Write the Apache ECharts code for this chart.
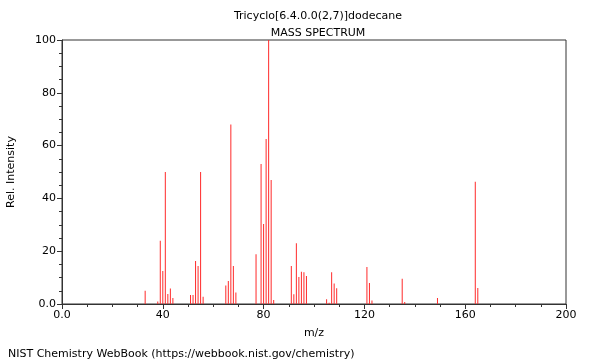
<!DOCTYPE html>
<html><head><meta charset="utf-8">
<script src="https://cdn.jsdelivr.net/npm/echarts@6/dist/echarts.min.js"></script>
<style>html,body{margin:0;padding:0;background:#fff}#c{width:600px;height:360px}</style>
</head><body><div id="c"></div>
<script>
const mz =        [33, 38, 39, 40, 41, 42, 43, 44, 51, 52, 53, 54, 55, 56, 65, 66, 67, 68, 69, 77, 79, 80, 81, 82, 83, 84, 91, 92, 93, 94, 95, 96, 97, 105, 106, 107, 108, 109, 121, 122, 123, 135, 136, 149, 164, 165];
const intensity = [5, 0.9, 24, 12.5, 50, 3.8, 5.9, 2.3, 3.4, 3.4, 16.3, 14.4, 50, 2.7, 7, 8.7, 68, 14.4, 4.4, 18.8, 53, 30.3, 62.5, 100, 47, 1.5, 14.4, 3.7, 23, 10.2, 12.2, 12, 10.6, 1.8, 0.5, 12, 7.8, 6, 14, 8, 1.3, 9.6, 0.8, 2.3, 46.3, 6.1];
const titleLines = ['Tricyclo[6.4.0.0(2,7)]dodecane', 'MASS SPECTRUM'];
const footer = 'NIST Chemistry WebBook (https://webbook.nist.gov/chemistry)';

const font = 'DejaVu Sans';
const chart = echarts.init(document.getElementById('c'), null, {renderer: 'canvas'});
const fmt = v => v === 0 ? '0.0' : String(v);
chart.setOption({
  animation: false,
  textStyle: {fontFamily: font},
  title: [
    {text: titleLines[0], left: 313, top: 6, textAlign: 'center', textStyle: {fontFamily: font, fontSize: 11, fontWeight: 'normal', color: '#000'}},
    {text: titleLines[1], left: 313, top: 23, textAlign: 'center', textStyle: {fontFamily: font, fontSize: 11, fontWeight: 'normal', color: '#000'}},
    {text: footer, left: 3, top: 344, textStyle: {fontFamily: font, fontSize: 11, fontWeight: 'normal', color: '#000'}}
  ],
  grid: {left: 62, right: 34, top: 40, bottom: 56, outerBoundsMode: 'none', containLabel: false, show: true, borderColor: '#333', borderWidth: 1, backgroundColor: 'transparent'},
  xAxis: {
    type: 'value', min: 0, max: 200, interval: 40,
    name: 'm/z', nameLocation: 'middle', nameGap: 24,
    nameTextStyle: {fontFamily: font, fontSize: 11, color: '#000'},
    axisLine: {show: true, lineStyle: {color: '#333'}},
    axisTick: {show: true, length: 5, lineStyle: {color: '#333'}},
    minorTick: {show: true, splitNumber: 4, length: 3, lineStyle: {color: '#333'}},
    axisLabel: {formatter: fmt, fontFamily: font, fontSize: 11, color: '#000', margin: 6},
    splitLine: {show: false}
  },
  yAxis: {
    type: 'value', min: 0, max: 100, interval: 20,
    name: 'Rel. Intensity', nameLocation: 'middle', nameGap: 45, nameRotate: 90,
    nameTextStyle: {fontFamily: font, fontSize: 11, color: '#000'},
    axisLine: {show: true, lineStyle: {color: '#333'}},
    axisTick: {show: true, length: 5, lineStyle: {color: '#333'}},
    minorTick: {show: true, splitNumber: 4, length: 3, lineStyle: {color: '#333'}},
    axisLabel: {formatter: fmt, fontFamily: font, fontSize: 11, color: '#000', margin: 6},
    splitLine: {show: false}
  },
  series: [{
    type: 'bar',
    data: mz.map((m, i) => [m, intensity[i]]),
    barWidth: 1,
    itemStyle: {color: '#ff2a2a'},
    silent: true
  }]
});
</script></body></html>
